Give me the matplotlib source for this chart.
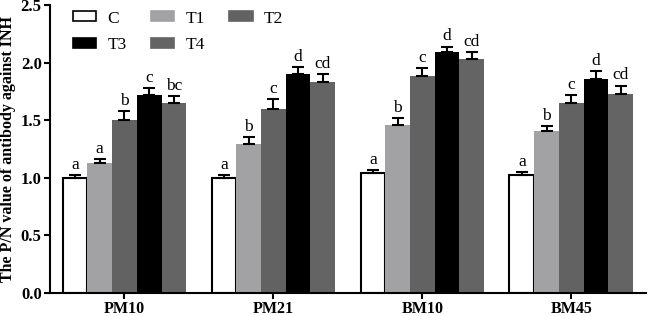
import numpy as np
import matplotlib.pyplot as plt
from matplotlib.patches import Patch

plt.rcParams['font.family'] = ['Liberation Serif', 'DejaVu Serif']

groups = ["PM10", "PM21", "BM10", "BM45"]
treatments = ["C", "T1", "T2", "T3", "T4"]
colors = ["white", "#a2a2a4", "#626262", "black", "#646464"]

C = [1.00, 1.00, 1.04, 1.02]
T1 = [1.13, 1.29, 1.46, 1.41]
T2 = [1.50, 1.60, 1.88, 1.65]
T3 = [1.72, 1.90, 2.09, 1.855]
T4 = [1.65, 1.83, 2.03, 1.73]

C_err = [0.02, 0.02, 0.025, 0.03]
T1_err = [0.03, 0.06, 0.06, 0.04]
T2_err = [0.08, 0.08, 0.07, 0.07]
T3_err = [0.06, 0.06, 0.05, 0.07]
T4_err = [0.06, 0.07, 0.06, 0.07]

C_sig = ["a", "a", "a", "a"]
T1_sig = ["a", "b", "b", "b"]
T2_sig = ["b", "c", "c", "c"]
T3_sig = ["c", "d", "d", "d"]
T4_sig = ["bc", "cd", "cd", "cd"]

values = [C, T1, T2, T3, T4]
errors = [C_err, T1_err, T2_err, T3_err, T4_err]
sigs = [C_sig, T1_sig, T2_sig, T3_sig, T4_sig]

fig = plt.figure(figsize=(6.49, 3.16), dpi=100)
ax = fig.add_axes([0.077, 0.073, 0.918, 0.911])

x = np.arange(len(groups))
w = 0.166
for i, name in enumerate(treatments):
    pos = x + (i - 2) * w
    v = np.array(values[i])
    e = np.array(errors[i])
    ax.bar(pos, v, width=w, color=colors[i],
           edgecolor="black" if i == 0 else colors[i],
           linewidth=1.5 if i == 0 else 0, zorder=2)
    ax.errorbar(pos, v, yerr=[np.zeros_like(e), e], fmt="none",
                ecolor="black", elinewidth=1.5, capsize=4, capthick=1.5, zorder=3)
    for p, top, s in zip(pos, v + e, sigs[i]):
        ax.text(p, top + 0.02, s, ha="center", va="bottom", fontsize=12.5)

ax.set_xlim(-0.5, 3.5)
ax.set_ylim(0, 2.5)
ax.set_yticks([0, 0.5, 1.0, 1.5, 2.0, 2.5])
ax.set_yticklabels(["0.0", "0.5", "1.0", "1.5", "2.0", "2.5"], fontweight="bold", fontsize=12)
ax.set_xticks(x)
ax.set_xticklabels(groups, fontweight="bold", fontsize=11.5)
ax.set_ylabel("The P/N value of antibody against INH", fontweight="bold", fontsize=11.5,
              labelpad=3)
ax.spines["top"].set_visible(False)
ax.spines["right"].set_visible(False)
for s in ["left", "bottom"]:
    ax.spines[s].set_linewidth(1.5)
ax.tick_params(width=1.5, length=4, pad=2)

# legend fills column-wise, so reorder to get rows C T1 T2 / T3 T4
order = [0, 3, 1, 4, 2]
handles = [Patch(facecolor=colors[i], edgecolor="black" if i == 0 else colors[i],
                 linewidth=1.2) for i in order]
labels = [treatments[i] for i in order]
ax.legend(handles, labels, ncol=3, frameon=False, loc="upper left",
          bbox_to_anchor=(0.012, 1.035), fontsize=12.5, handlelength=1.35,
          handleheight=0.5, handletextpad=0.65, columnspacing=1.4, labelspacing=0.6)

fig.savefig("out.png", dpi=100)
